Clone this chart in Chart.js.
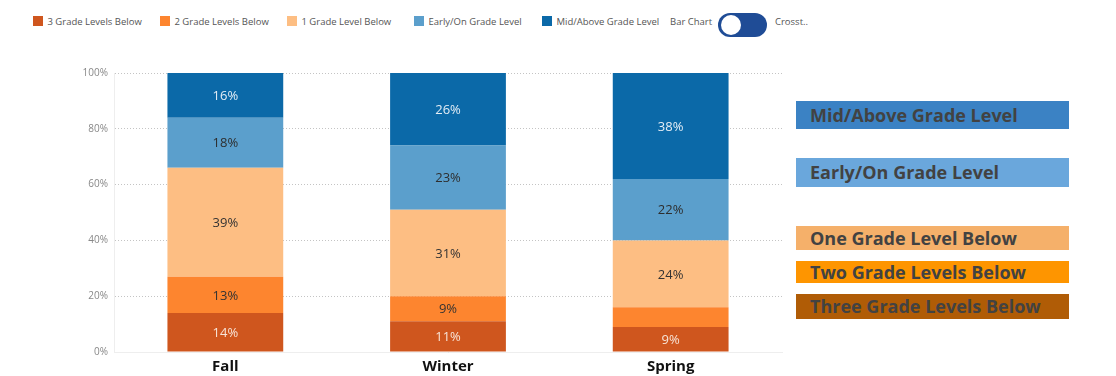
<!DOCTYPE html>
<html>
<head>
<meta charset="utf-8">
<script src="https://cdn.jsdelivr.net/npm/chart.js@4"></script>
<style>
  body { margin: 0; background: #fff; width: 1116px; height: 376px; overflow: hidden; position: relative; font-family: "Open Sans", sans-serif; }
  #wrap { position: absolute; left: 0; top: 56px; width: 792px; height: 320px; }
  .leg { position: absolute; top: 16px; font-size: 9.5px; color: #555; white-space: nowrap; line-height: 12px; }
  .leg i { display: inline-block; width: 10px; height: 10px; vertical-align: -1px; margin-right: 2px; }
  .toggle { position: absolute; left: 718px; top: 13px; width: 49px; height: 24px; border-radius: 12px; background: #1f4c96; }
  .toggle b { position: absolute; left: 3px; top: 2px; width: 20px; height: 20px; border-radius: 50%; background: #fff; }
  .box { position: absolute; left: 796px; width: 273px; font-family: "Open Sans", sans-serif; font-weight: 700; font-size: 18px; color: #424242; padding-left: 14px; box-sizing: border-box; white-space: nowrap; }
</style>
</head>
<body>
<div id="legend"></div>
<div class="leg" style="left:670px">Bar Chart</div>
<div class="toggle"><b></b></div>
<div class="leg" style="left:775px">Crosst..</div>
<div id="boxes"></div>
<div id="wrap"><canvas id="chart"></canvas></div>
<script>
const terms = ['Fall', 'Winter', 'Spring'];
const levels = ['3 Grade Levels Below', '2 Grade Levels Below', '1 Grade Level Below', 'Early/On Grade Level', 'Mid/Above Grade Level'];
const threeBelow = [14, 11, 9];
const twoBelow = [13, 9, 7];
const oneBelow = [39, 31, 24];
const earlyOn = [18, 23, 22];
const midAbove = [16, 26, 38];
const yTicks = [0, 20, 40, 60, 80, 100];

const colors = ['#cf561e', '#fd852f', '#fdbe83', '#5b9fcc', '#0b69a8'];
const labelColors = ['#f7e4d8', '#333333', '#333333', '#2e2e2e', '#e4edf5'];
const series = [threeBelow, twoBelow, oneBelow, earlyOn, midAbove];

// top legend
const legX = [33, 160, 287, 414, 542];
document.getElementById('legend').innerHTML = levels.map((l, i) =>
  `<div class="leg" style="left:${legX[i]}px"><i style="background:${colors[i]}"></i> ${l}</div>`).join('');

// right side key boxes
const keys = [
  { text: 'Mid/Above Grade Level', color: '#3b82c4', top: 101, h: 28 },
  { text: 'Early/On Grade Level', color: '#6aa7dc', top: 158, h: 29 },
  { text: 'One Grade Level Below', color: '#f5b06a', top: 226, h: 24 },
  { text: 'Two Grade Levels Below', color: '#fe9500', top: 261, h: 22 },
  { text: 'Three Grade Levels Below', color: '#b05c06', top: 294, h: 25 }
];
document.getElementById('boxes').innerHTML = keys.map(k =>
  `<div class="box" style="top:${k.top}px;height:${k.h}px;line-height:${k.h}px;background:${k.color}">${k.text}</div>`).join('');

const segLabels = {
  id: 'segLabels',
  afterDatasetsDraw(chart) {
    const ctx = chart.ctx;
    ctx.save();
    ctx.font = '13px "Open Sans", sans-serif';
    ctx.textAlign = 'center';
    ctx.textBaseline = 'middle';
    chart.data.datasets.forEach((ds, di) => {
      chart.getDatasetMeta(di).data.forEach((bar, i) => {
        const v = ds.data[i];
        if (v < 8) return;
        ctx.fillStyle = labelColors[di];
        ctx.fillText(v + '%', bar.x, (bar.y + bar.base) / 2 + 1);
      });
    });
    ctx.restore();
  }
};

new Chart(document.getElementById('chart'), {
  type: 'bar',
  data: {
    labels: terms,
    datasets: series.map((d, i) => ({
      label: levels[i],
      data: d,
      backgroundColor: colors[i],
      borderWidth: 0,
      categoryPercentage: 1,
      barPercentage: 0.52
    }))
  },
  options: {
    responsive: true,
    maintainAspectRatio: false,
    animation: false,
    layout: { padding: { top: 17, right: 10, bottom: 0, left: 0 } },
    plugins: { legend: { display: false }, tooltip: { enabled: false } },
    scales: {
      x: {
        stacked: true,
        grid: { display: false, drawTicks: false },
        border: { color: '#eeeeee' },
        ticks: { color: '#111', font: { family: '"Open Sans", sans-serif', size: 15, weight: 'bold' }, padding: 6 },
        afterFit(s) { s.height = 24; }
      },
      y: {
        stacked: true,
        min: 0,
        max: 100,
        afterBuildTicks(s) { s.ticks = yTicks.map(v => ({ value: v })); },
        grid: { color: '#c4c4c4', drawTicks: false },
        border: { color: '#eeeeee', dash: [1, 2] },
        ticks: { color: '#888', font: { family: '"Open Sans", sans-serif', size: 10 }, padding: 6, callback: v => v + '%' },
        afterFit(s) { s.width = 114; }
      }
    }
  },
  plugins: [segLabels]
});
</script>
</body>
</html>
